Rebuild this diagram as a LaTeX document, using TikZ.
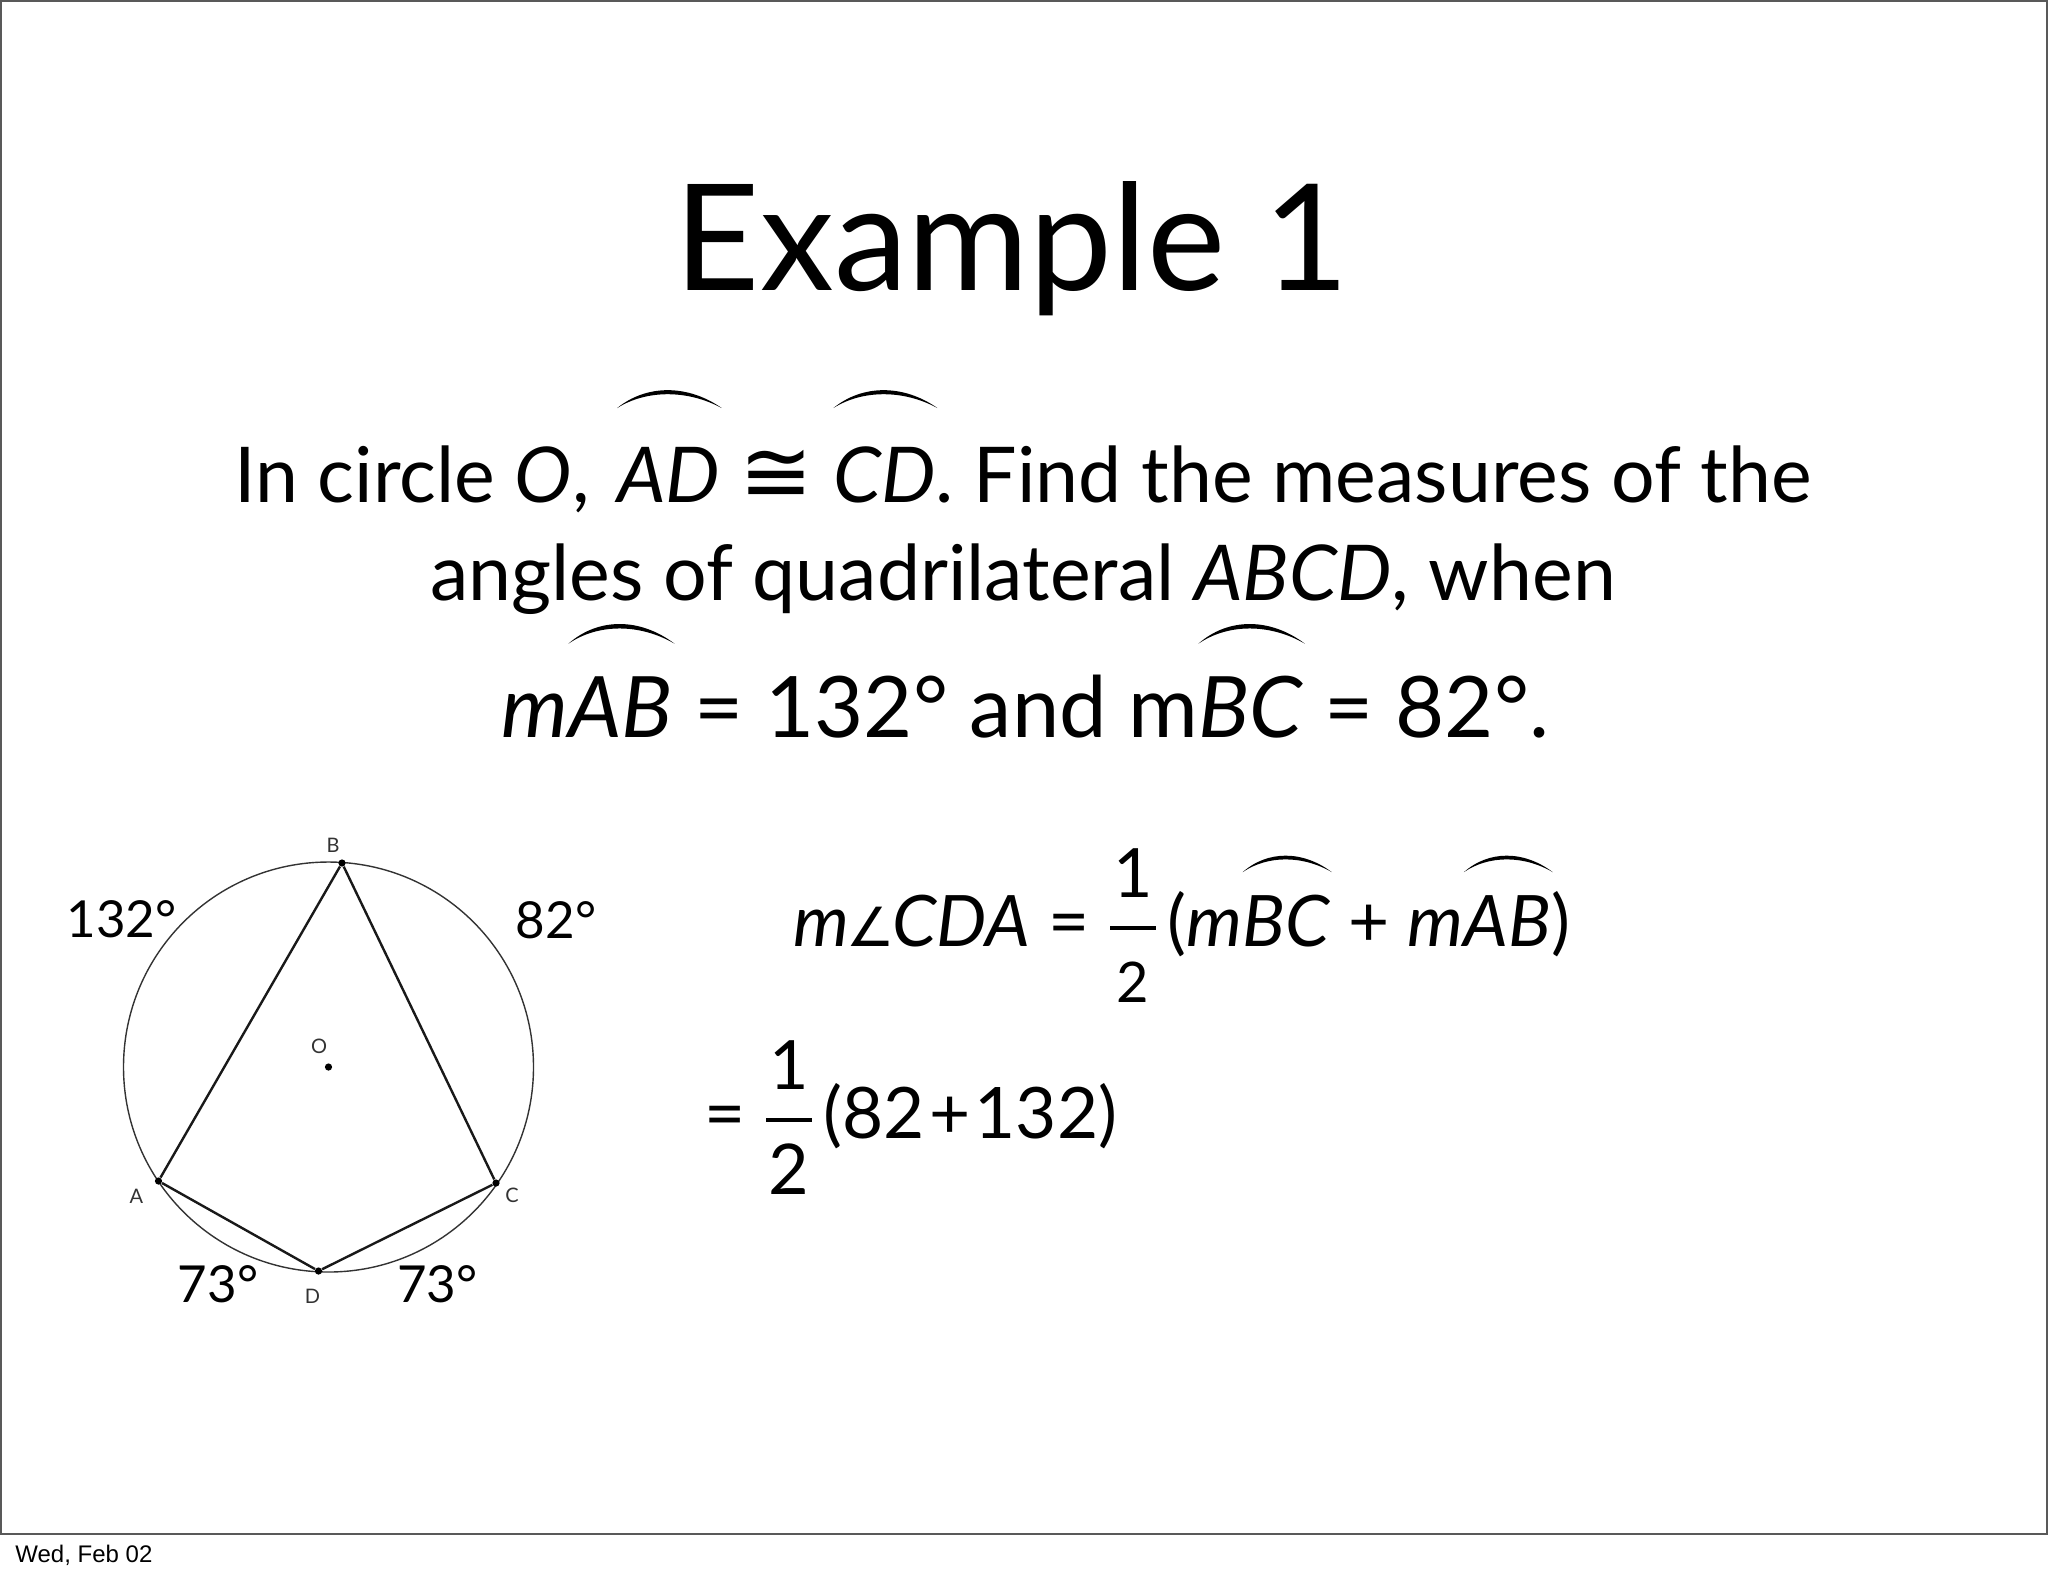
\documentclass[tikz,border=0pt]{standalone}
\usepackage{fix-cm}
\usepackage{amsmath}
\usepackage{fontspec}
\setmainfont{Lato}
\newfontfamily\datefont{Liberation Sans}
\newfontfamily\symfont{DejaVu Sans}

\newlength\arcw
% arc over the name of an arc, its foot #1 above the baseline
\newcommand\arcover[2][1.2em]{%
  \settowidth{\arcw}{#2}%
  \makebox[0pt][l]{\raisebox{#1}{\tikz[baseline=0pt]
    \fill (0.02em,0pt) .. controls (0.3\arcw,0.31em) and (0.7\arcw,0.31em) .. (\arcw+0.04em,0pt)
      .. controls (0.7\arcw,0.24em) and (0.3\arcw,0.24em) .. cycle;}}#2}
% digit of a fraction: size, shift, digit
\newcommand\fracdigit[3]{\raisebox{#2}{\makebox[23pt]{\fontsize{#1}{#1}\selectfont #3}}}
\newcommand\half[2]{$\genfrac{}{}{2pt}{0}{\fracdigit{34pt}{0pt}{1}}{\fracdigit{#1}{#2}{2}}$\hspace{0.13em}}

\tikzset{
  vertex/.style={circle,fill=black,inner sep=0pt,minimum size=3.6pt},
  ptlabel/.style={font=\fontsize{10pt}{12pt}\selectfont,text=black!80,inner sep=0pt},
  degree/.style={font=\fontsize{25.5pt}{30pt}\selectfont,anchor=base,inner sep=0pt},
  question/.style={font=\fontsize{38.5pt}{46pt}\selectfont,anchor=base,inner sep=0pt},
  working/.style={font=\fontsize{35.5pt}{42pt}\selectfont,anchor=base west,inner sep=0pt},
  edge/.style={line width=1.2pt,black!90},
}

\begin{document}
\begin{tikzpicture}[x=0.5pt,y=-0.5pt]
\useasboundingbox (0,0) rectangle (2048,1576);

%% slide frame and date
\draw[line width=1pt,black!65] (1,1) rectangle (2047,1534);
\node[font=\datefont\fontsize{12pt}{14pt}\selectfont,anchor=base west,inner sep=0pt] (date) at (15,1562) {Wed, Feb 02};

%% Title
\node[font=\fontsize{74pt}{88pt}\selectfont,anchor=base,inner sep=0pt] (title) at (1012,290) {Example 1};

%% Question
\node[question] (line1) at (1023,502) {In circle \textit{O},\hspace{0.1em} \arcover[1.22em]{\textit{AD}} {\symfont\fontsize{44pt}{50pt}\selectfont ≅} \arcover[1.22em]{\textit{CD}}. Find the measures of the};
\node[question] (line2) at (1023,600) {angles of quadrilateral \textit{ABCD}, when};
\node[question,font=\fontsize{42.4pt}{50pt}\selectfont] (line3) at (1025.5,737) {\textit{m}\arcover[1.1em]{\textit{AB}} = 132° and m\arcover[1.1em]{\textit{BC}} = 82°.};

%% Circle O
\coordinate (O) at (328.5,1067);
\draw[line width=0.7pt,black!80] (O) circle [radius=205];
\node[vertex] (Odot) at (O) {};
\node[vertex] (A) at (158.5,1181) {};
\node[vertex] (B) at (342,863) {};
\node[vertex] (C) at (496,1183) {};
\node[vertex] (D) at (318.5,1271) {};
\draw[edge] (A) -- (B) -- (C) -- (D) -- (A);

\node[ptlabel] (labO) at (319,1046) {O};
\node[ptlabel] (labA) at (136.5,1196) {A};
\node[ptlabel] (labB) at (333,845) {B};
\node[ptlabel] (labC) at (512,1195) {C};
\node[ptlabel] (labD) at (312.5,1296) {D};

%% arc measures
\node[degree] (arcAB) at (121.5,937) {132°};
\node[degree] (arcBC) at (556,938) {82°};
\node[degree] (arcAD) at (218,1302) {73°};
\node[degree] (arcCD) at (437.5,1302) {73°};

%% Working
\node[working] (step1) at (793,946) {\textit{m}\kern-0.04em{\symfont\fontsize{27pt}{32pt}\selectfont ∠}\kern-0.04em\textit{CDA} = \half{28pt}{-4pt}(\textit{m}\arcover[1.04em]{\textit{BC}} + \textit{m}\arcover[1.04em]{\textit{AB}})};
\node[working] (step2) at (704,1138) {= \half{35pt}{-4pt}(82\kern0.06em+\kern0.06em132)};

\end{tikzpicture}
\end{document}
